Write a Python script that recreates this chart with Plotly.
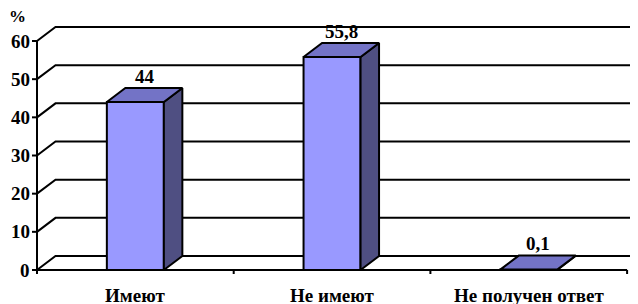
import plotly.graph_objects as go

# ---- data ----
categories = ["Имеют", "Не имеют", "Не получен ответ"]
values = [44, 55.8, 0.1]
value_labels = ["44", "55,8", "0,1"]
y_ticks = [0, 10, 20, 30, 40, 50, 60]
y_tick_labels = ["0", "10", "20", "30", "40", "50", "60"]
y_unit = "%"

# ---- styling / geometry ----
WIN_W, WIN_H = 638, 304
OFF = 8  # page body margin
W, H = WIN_W - OFF, WIN_H - OFF
FRONT, TOP, SIDE = "#9999FF", "#7373C6", "#4F4F82"
FONT = "Liberation Serif"
FS = 19

# pixel layout of the plot area (page pixels)
PL, PR, PT, PB = 31, 638, 18, 276
X0_PX, X_UNIT = 37.0, 196.7     # front axis pixel, px per category
Y0_PX, Y_UNIT = 270.0, 229 / 60  # zero pixel, px per unit
DXP, DYP = 18.5, 14.0            # depth offset in px

def xpx(p):
    return -0.5 + (p - X0_PX) / X_UNIT

def ypx(p):
    return (Y0_PX - p) / Y_UNIT

DX = DXP / X_UNIT
DY = DYP / Y_UNIT
BW = 57 / X_UNIT
n = len(categories)
xs = list(range(n))
XMAX = xpx(PR + 5)

fig = go.Figure()

shapes = []
for v in y_ticks:
    shapes.append(dict(type="path", xref="x", yref="y", layer="below",
                       path=f"M{-0.5},{v} L{-0.5 + DX},{v + DY} L{XMAX},{v + DY}",
                       line=dict(color="black", width=2)))
shapes.append(dict(type="line", xref="x", yref="y", x0=-0.5, x1=-0.5, y0=0, y1=y_ticks[-1],
                   line=dict(color="black", width=2), layer="above"))
for v in y_ticks:
    shapes.append(dict(type="line", xref="x", yref="y", x0=-0.5 - 5 / X_UNIT, x1=-0.5, y0=v, y1=v,
                       line=dict(color="black", width=2), layer="above"))
shapes.append(dict(type="line", xref="x", yref="y", x0=-0.5, x1=n - 0.5, y0=0, y1=0,
                   line=dict(color="black", width=2), layer="above"))
for b in range(n + 1):
    shapes.append(dict(type="line", xref="x", yref="y", x0=b - 0.5, x1=b - 0.5, y0=0, y1=-4 / Y_UNIT,
                       line=dict(color="black", width=2), layer="above"))

fig.add_trace(go.Bar(x=xs, y=values, width=BW, marker=dict(color=FRONT, line=dict(color="black", width=2)),
                     hoverinfo="skip", showlegend=False))

for c, v in zip(xs, values):
    l, r = c - BW / 2, c + BW / 2
    fig.add_trace(go.Scatter(x=[r, r + DX, r + DX, r, r], y=[0, DY, v + DY, v, 0], mode="lines",
                             fill="toself", fillcolor=SIDE, line=dict(color="black", width=2),
                             hoverinfo="skip", showlegend=False))
    fig.add_trace(go.Scatter(x=[l, r, r + DX, l + DX, l], y=[v, v, v + DY, v + DY, v], mode="lines",
                             fill="toself", fillcolor=TOP, line=dict(color="black", width=2),
                             hoverinfo="skip", showlegend=False))

annotations = []
for c, v, t in zip(xs, values, value_labels):
    annotations.append(dict(x=c + DX / 2, y=v + DY, xref="x", yref="y", text=f"<b>{t}</b>",
                            showarrow=False, yanchor="middle", yshift=12,
                            font=dict(family=FONT, size=FS, color="black")))
for c, t in zip(xs, categories):
    annotations.append(dict(x=c, y=0, xref="x", yref="y", text=f"<b>{t}</b>",
                            showarrow=False, yanchor="middle", yshift=-25,
                            font=dict(family=FONT, size=FS, color="black")))
for v, t in zip(y_ticks, y_tick_labels):
    annotations.append(dict(x=-0.5, y=v, xref="x", yref="y", text=f"<b>{t}</b>",
                            showarrow=False, xanchor="right", yanchor="middle", xshift=-5,
                            font=dict(family=FONT, size=FS, color="black")))
annotations.append(dict(x=(18 - PL) / (PR - PL), y=(PB - 17) / (PB - PT), xref="paper", yref="paper",
                        text=f"<b>{y_unit}</b>", showarrow=False, xanchor="center", yanchor="middle",
                        font=dict(family=FONT, size=FS - 2, color="black")))

fig.update_layout(
    width=W, height=H,
    margin=dict(l=PL - OFF, r=WIN_W - PR, t=PT - OFF, b=WIN_H - PB, pad=0),
    paper_bgcolor="white", plot_bgcolor="white",
    xaxis=dict(range=[xpx(PL), xpx(PR)], visible=False, fixedrange=True),
    yaxis=dict(range=[ypx(PB), ypx(PT)], visible=False, fixedrange=True),
    shapes=shapes, annotations=annotations, showlegend=False,
)

fig.write_html("out.html")
